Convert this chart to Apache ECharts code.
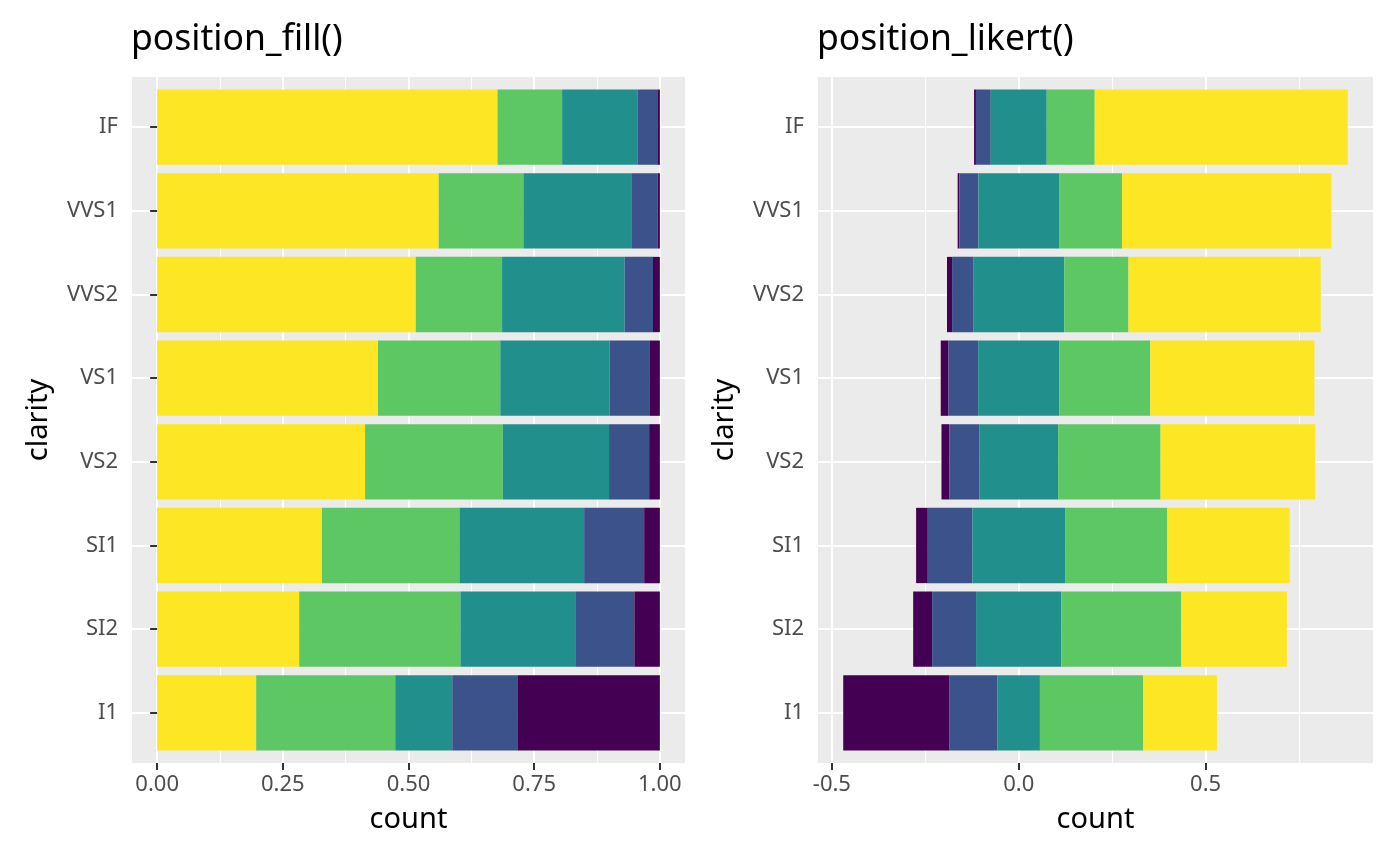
<!DOCTYPE html>
<html>
<head>
<meta charset="utf-8">
<script src="https://cdn.jsdelivr.net/npm/echarts@6/dist/echarts.min.js"></script>
<style>
  html, body { margin: 0; padding: 0; background: #fff; }
  #chart { width: 1400px; height: 865px; }
</style>
</head>
<body>
<div id="chart"></div>
<script>
// diamonds: counts of cut within each clarity
var clarity = ['I1', 'SI2', 'SI1', 'VS2', 'VS1', 'VVS2', 'VVS1', 'IF'];
var cuts = ['Fair', 'Good', 'Very Good', 'Premium', 'Ideal'];
var fair     = [210, 466, 408, 261, 170, 69, 17, 9];
var good     = [96, 1081, 1560, 978, 648, 286, 186, 71];
var veryGood = [84, 2100, 3240, 2591, 1775, 1235, 789, 268];
var premium  = [205, 2949, 3575, 3357, 1989, 870, 616, 230];
var ideal    = [146, 2598, 4282, 5071, 3589, 2606, 2047, 1212];

var fillTicks = [0, 0.25, 0.5, 0.75, 1];
var fillMinor = [0.125, 0.375, 0.625, 0.875];
var likertTicks = [-0.5, 0, 0.5];
var likertMinor = [-0.25, 0.25, 0.75];
var rowTicks = [1, 2, 3, 4, 5, 6, 7, 8];

var colors = ['#440154', '#3B528B', '#21908C', '#5DC863', '#FDE725'];
var counts = [fair, good, veryGood, premium, ideal];

// proportions within each clarity
var totals = clarity.map(function (c, i) {
    return counts.reduce(function (s, a) { return s + a[i]; }, 0);
});
var props = counts.map(function (a) {
    return a.map(function (v, i) { return v / totals[i]; });
});
// likert: left edge = -(Fair + Good + half Very Good)
var likertBase = clarity.map(function (c, i) {
    return -(props[0][i] + props[1][i] + props[2][i] / 2);
});
var likertEnd = clarity.map(function (c, i) {
    return props[2][i] / 2 + props[3][i] + props[4][i];
});
var lMin = Math.min.apply(null, likertBase), lMax = Math.max.apply(null, likertEnd);
var lPad = (lMax - lMin) * 0.05;

var font = 'Noto Sans';
var panelH = 686, unit = panelH / 8.2;
function panel(left, width) {
    return { left: left, top: 77, width: width, height: panelH, backgroundColor: '#EBEBEB', borderWidth: 0, show: true };
}
function bars(left, width) {
    return { left: left, top: 77 + unit * 0.1, width: width, height: unit * 8, borderWidth: 0, show: false };
}

function majorX(grid, min, max, ticks, digits) {
    return {
        type: 'value', gridIndex: grid, min: min, max: max, position: 'bottom',
        name: 'count', nameLocation: 'middle', nameGap: 42,
        nameTextStyle: { fontFamily: font, fontSize: 29, color: '#000' },
        axisLine: { show: false },
        axisTick: { show: true, length: 7, customValues: ticks, lineStyle: { color: '#333', width: 2 } },
        axisLabel: { customValues: ticks, margin: 11, fontFamily: font, fontSize: 22, color: '#4D4D4D',
            formatter: function (v) { return v.toFixed(digits); } },
        splitLine: { show: true, customValues: ticks, lineStyle: { color: '#fff', width: 2 } }
    };
}
function minorX(grid, min, max, ticks) {
    return {
        type: 'value', gridIndex: grid, min: min, max: max, position: 'bottom',
        axisLine: { show: false },
        axisTick: { show: false, customValues: ticks },
        axisLabel: { show: false, customValues: ticks },
        splitLine: { show: true, customValues: ticks, lineStyle: { color: '#fff', width: 1 } }
    };
}
function hiddenX(grid, min, max) {
    return { type: 'value', gridIndex: grid, min: min, max: max, show: false, splitLine: { show: false } };
}
function rowY(grid) {
    return {
        type: 'value', gridIndex: grid, min: 0.4, max: 8.6,
        name: 'clarity', nameLocation: 'middle', nameGap: 79, nameRotate: 90,
        nameTextStyle: { fontFamily: font, fontSize: 29, color: '#000' },
        axisLine: { show: false },
        axisTick: { show: true, length: 7, customValues: rowTicks, lineStyle: { color: '#333', width: 2 } },
        axisLabel: { customValues: rowTicks, margin: 14, fontFamily: font, fontSize: 22, color: '#4D4D4D',
            formatter: function (v) { return clarity[Math.round(v) - 1]; } },
        splitLine: { show: true, customValues: rowTicks, lineStyle: { color: '#fff', width: 2 } }
    };
}
function catY(grid) {
    return { type: 'category', gridIndex: grid, data: clarity, show: false, splitLine: { show: false } };
}

var series = [];
// position_fill: Ideal on the left, Fair on the right
[4, 3, 2, 1, 0].forEach(function (k) {
    series.push({
        name: cuts[k], type: 'bar', xAxisIndex: 2, yAxisIndex: 1, stack: 'fill',
        barWidth: '90%', data: props[k], itemStyle: { color: colors[k] }, silent: true
    });
});
// position_likert: centred on the middle level
series.push({
    name: 'offset', type: 'bar', xAxisIndex: 5, yAxisIndex: 3, stack: 'likert', stackStrategy: 'all',
    barWidth: '90%', data: likertBase, itemStyle: { color: 'rgba(0,0,0,0)' }, silent: true
});
[0, 1, 2, 3, 4].forEach(function (k) {
    series.push({
        name: cuts[k], type: 'bar', xAxisIndex: 5, yAxisIndex: 3, stack: 'likert', stackStrategy: 'all',
        barWidth: '90%', data: props[k], itemStyle: { color: colors[k] }, silent: true
    });
});

var titleStyle = { fontFamily: font, fontSize: 35.5, fontWeight: 'normal', color: '#000' };
var chart = echarts.init(document.getElementById('chart'), null, { renderer: 'canvas' });
chart.setOption({
    backgroundColor: '#fff',
    animation: false,
    title: [
        { text: 'position_fill()', left: 131, top: 22, padding: 0, textStyle: titleStyle },
        { text: 'position_likert()', left: 817, top: 22, padding: 0, textStyle: titleStyle }
    ],
    grid: [panel(132, 553), bars(132, 553), panel(818, 555), bars(818, 555)],
    xAxis: [
        majorX(0, -0.05, 1.05, fillTicks, 2),
        minorX(0, -0.05, 1.05, fillMinor),
        hiddenX(1, -0.05, 1.05),
        majorX(2, lMin - lPad, lMax + lPad, likertTicks, 1),
        minorX(2, lMin - lPad, lMax + lPad, likertMinor),
        hiddenX(3, lMin - lPad, lMax + lPad)
    ],
    yAxis: [rowY(0), catY(1), rowY(2), catY(3)],
    series: series
});
</script>
</body>
</html>
